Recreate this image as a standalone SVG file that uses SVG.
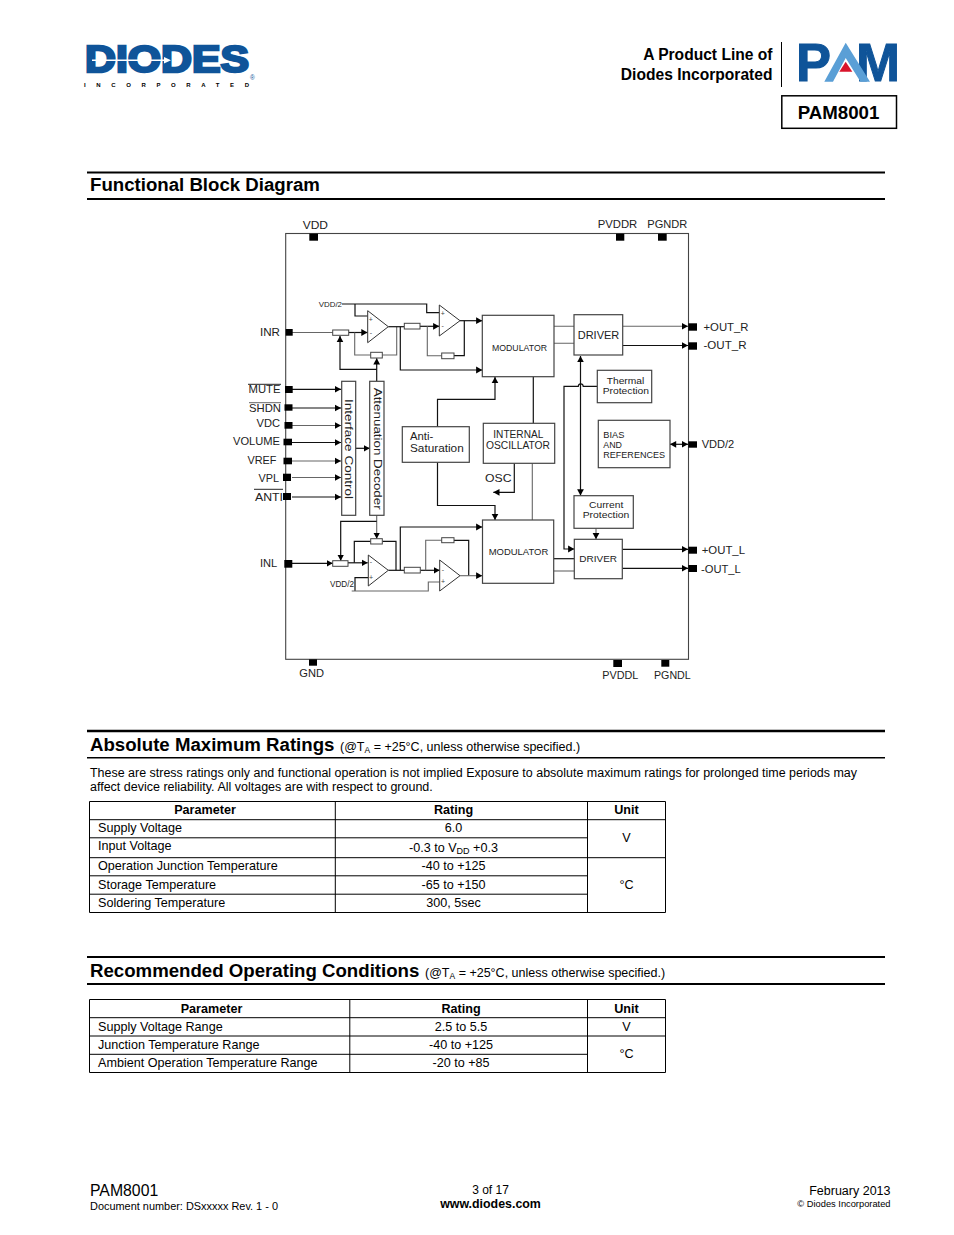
<svg xmlns="http://www.w3.org/2000/svg" width="954" height="1235" viewBox="0 0 954 1235">
<style>
text{font-family:"Liberation Sans",Arial,sans-serif;fill:#000}
.b{font-weight:bold}
.h{font-weight:bold;font-size:18.65px}
.s{font-size:12.5px}
.t{font-size:12.6px}
.tb{font-size:12.6px;font-weight:bold}
.m{text-anchor:middle}
.e{text-anchor:end}
.l{font-size:10.5px;fill:#222}
.pm{font-size:7px;fill:#444;text-anchor:middle}
.rule{stroke:#000;fill:none}
.box{fill:#fff;stroke:#444;stroke-width:1.2}
.res{fill:#fff;stroke:#444;stroke-width:1}
.amp{fill:#fff;stroke:#333;stroke-width:1}
.pin{fill:#000}
.w{fill:none;stroke:#111;stroke-width:1.2}
.g{fill:none;stroke:#666;stroke-width:1.1}
.a{marker-end:url(#ah)}
.tl{stroke:#000;stroke-width:1;fill:none}
.logo{fill:#0f5499;stroke:#0f5499}
</style>
<defs>
<marker id="ah" markerUnits="userSpaceOnUse" markerWidth="7" markerHeight="8" refX="6.2" refY="4" orient="auto"><path d="M0 0.6L6.2 4L0 7.4Z" fill="#000"/></marker>
<marker id="as" markerUnits="userSpaceOnUse" markerWidth="7" markerHeight="8" refX="0" refY="4" orient="auto"><path d="M6.2 0.6L0 4L6.2 7.4Z" fill="#000"/></marker>
</defs>
<rect width="954" height="1235" fill="#fff"/>

<g id="logo-diodes">
<text x="85" y="72.2" class="b logo" font-size="36" textLength="164" lengthAdjust="spacingAndGlyphs" style="stroke-width:2.4">DIODES</text>
<path d="M92 60.3H164" stroke="#fff" stroke-width="1.4" fill="none"/>
<polygon points="164,57 171,60.3 164,63.6" fill="#fff"/>
<text x="250" y="79.5" font-size="6.5" style="fill:#0f5499">®</text>
<text x="84" y="87" class="b" font-size="6" textLength="165">INCORPORATED</text>
</g>
<g id="logo-pam">
<text x="772.5" y="60" class="b e" font-size="15.6">A Product Line of</text>
<text x="772.5" y="80" class="b e" font-size="15.6">Diodes Incorporated</text>
<path d="M781.5 42V87" stroke="#000" stroke-width="1" fill="none"/>
<text x="796" y="81.2" class="b logo" font-size="53" textLength="35" lengthAdjust="spacingAndGlyphs" style="stroke-width:1">P</text>
<text x="856" y="81.2" class="b logo" font-size="53" textLength="44" lengthAdjust="spacingAndGlyphs" style="stroke-width:1">M</text>
<polygon points="845.7,42.7 824.3,81.7 833,81.7 845.7,58 860.5,81.7 870,81.7" fill="#5a9fd6"/>
<polygon points="845.7,61.7 839.3,71.7 852.3,71.7" fill="#d9142b"/>
</g>
<g id="part-number">
<rect x="781.8" y="95.8" width="114.7" height="32.5" fill="#fff" stroke="#000" stroke-width="1.5"/>
<text x="838.5" y="119" class="b m" font-size="18.7">PAM8001</text>
</g>

<g id="section-fbd">
<path class="rule" stroke-width="2" d="M87 172.5H885M87 199H885"/>
<text x="90" y="191" class="h">Functional Block Diagram</text>
</g>

<g id="chip-outline"><rect x="285.7" y="233.5" width="402.8" height="425.8" fill="none" stroke="#444" stroke-width="1.1"/></g>

<g id="connectors">
<path class="g" d="M292 332.5H333"/>
<path class="w a" d="M348.7 332.5H367.5"/>
<path class="w" d="M342 304H426.7V312.7H439.3"/>
<path class="w" d="M355 304V316H367.7"/>
<path class="g" d="M354.7 332.5V355H370.7"/>
<path class="g" d="M382.3 355H396.7V326.7"/>
<path class="w" d="M388.3 326.7H404"/>
<path class="w a" d="M420 326.3H439.3"/>
<path class="w a" d="M376.7 381V358.3"/>
<path class="w a" d="M376.7 369.3H340V336"/>
<path class="w a" d="M400.3 326.7V370H482.3"/>
<path class="g" d="M427.3 326.3V355.7H441.7"/>
<path class="w" d="M454 355.7H464.3V320.7"/>
<path class="w a" d="M460 320.7H482.3"/>
<path class="g" d="M554 326.3H574M554 343.3H574"/>
<path class="g a" d="M622.7 326.3H688"/>
<path class="w a" d="M622.7 345.5H688"/>
<path class="w a" d="M437.5 426.7V399.3H495V377"/>
<path class="w a" d="M437.5 462.3V505.5H495V520"/>
<path class="w" d="M533.3 376.7V423.3"/>
<path class="g" d="M532.3 463.3V520"/>
<path class="w a" d="M514.3 463.3V492.3H493.3"/>
<path class="w a" d="M597.3 386.3H583.2C583 383 578.5 383 578.3 386.3H564V549H574.3"/>
<path class="w a" d="M580.5 440V356"/>
<path class="w a" d="M580.5 440V495.5"/>
<path class="g a" d="M596 528.3V539.3"/>
<path class="w" d="M553.7 558.7H574.3"/>
<path class="g" d="M553.7 571H574.3"/>
<path class="w a" d="M622.3 549.3H688"/>
<path class="w a" d="M622.3 568.3H688"/>
<path class="w a" d="M670 444.3H688" style="marker-start:url(#as)"/>
<path class="w a" d="M292 389.3H341"/>
<path class="w a" d="M292 408H341"/>
<path class="g a" d="M292 425.5H341"/>
<path class="w a" d="M292 442.5H341"/>
<path class="g a" d="M292 461H341"/>
<path class="g a" d="M292 477.5H341"/>
<path class="w a" d="M292 497H341"/>
<path class="w a" d="M355.7 448.3H369.7"/>
<path class="w a" d="M292 563.3H332.7"/>
<path class="w a" d="M348 562.8H367.7"/>
<path class="w" d="M354.3 562.8V541.3H370.7"/>
<path class="w" d="M382.3 541.3H396V570.3"/>
<path class="w" d="M388.3 570.3H404.3"/>
<path class="w a" d="M420.3 570.3H439.7"/>
<path class="g a" d="M376.7 515.3V538.7"/>
<path class="w a" d="M376.7 521.3H340.7V560.7"/>
<path class="w a" d="M400.3 570.3V527H482.3"/>
<path class="g" d="M425.7 570.3V540.3H441.7"/>
<path class="w" d="M454 540.3H468.7V575.7"/>
<path class="g a" d="M460 575.7H482.3"/>
<path class="w" d="M368.3 577.7H355V591"/>
<path class="g" d="M351.7 591H428.3V582H439.7"/>
</g>

<g id="amp-r1"><polygon class="amp" points="367.7,310.7 367.7,342.7 388.3,326.7"/><text x="370.7" y="321.5" class="pm">+</text><text x="371" y="335" class="pm">-</text></g>
<g id="amp-r2"><polygon class="amp" points="439.3,305 439.3,336 460,320.7"/><text x="442.7" y="315.5" class="pm">+</text><text x="442.7" y="328" class="pm">-</text></g>
<g id="amp-l1"><polygon class="amp" points="368.3,555 368.3,586 388.3,570.3"/><text x="371" y="564" class="pm">-</text><text x="371" y="580" class="pm">+</text></g>
<g id="amp-l2"><polygon class="amp" points="439.7,560 439.7,591 460,575.7"/><text x="443" y="572" class="pm">-</text><text x="443" y="583.5" class="pm">+</text></g>

<g id="res-1"><rect class="res" x="332.7" y="330" width="16" height="5.3"/></g>
<g id="res-2"><rect class="res" x="370.7" y="352.3" width="11.6" height="5.7"/></g>
<g id="res-3"><rect class="res" x="404.3" y="323.3" width="15.7" height="5.7"/></g>
<g id="res-4"><rect class="res" x="441.7" y="353" width="12.3" height="5.7"/></g>
<g id="res-5"><rect class="res" x="332.7" y="560.7" width="15.3" height="5.6"/></g>
<g id="res-6"><rect class="res" x="370.7" y="538.7" width="11.6" height="5.3"/></g>
<g id="res-7"><rect class="res" x="404.3" y="567.3" width="16" height="5.7"/></g>
<g id="res-8"><rect class="res" x="441.7" y="537.7" width="12.3" height="5"/></g>

<g id="modulator-r"><rect class="box" x="482.3" y="315.3" width="71.7" height="61.4"/><text class="l" style="font-size:9.5px" x="492" y="350.5" textLength="55" lengthAdjust="spacingAndGlyphs">MODULATOR</text></g>
<g id="driver-r"><rect class="box" x="574" y="314.7" width="48.7" height="40.3"/><text class="l" x="577.7" y="339" textLength="41.6" lengthAdjust="spacingAndGlyphs">DRIVER</text></g>
<g id="thermal"><rect class="box" x="597.3" y="370.3" width="54.4" height="32.4"/><text class="l" style="font-size:9.5px" x="606.7" y="383.5" textLength="37.6" lengthAdjust="spacingAndGlyphs">Thermal</text><text class="l" style="font-size:9.5px" x="602.7" y="393.8" textLength="46.3" lengthAdjust="spacingAndGlyphs">Protection</text></g>
<g id="bias"><rect class="box" x="598.3" y="420.3" width="71.7" height="47.4"/><text class="l" style="font-size:9.5px" x="603.3" y="437.5" textLength="21" lengthAdjust="spacingAndGlyphs">BIAS</text><text class="l" style="font-size:9.5px" x="603.3" y="447.5" textLength="18.7" lengthAdjust="spacingAndGlyphs">AND</text><text class="l" style="font-size:9.5px" x="603.3" y="457.5" textLength="61.7" lengthAdjust="spacingAndGlyphs">REFERENCES</text></g>
<g id="anti-saturation"><rect class="box" x="402.3" y="426.7" width="67" height="35.6"/><text class="l" x="410" y="439.7" textLength="23.3" lengthAdjust="spacingAndGlyphs">Anti-</text><text class="l" x="410" y="451.7" textLength="53.7" lengthAdjust="spacingAndGlyphs">Saturation</text></g>
<g id="oscillator"><rect class="box" x="483.3" y="423.3" width="71.4" height="40"/><text class="l" style="font-size:10px" x="493.3" y="437.6" textLength="50" lengthAdjust="spacingAndGlyphs">INTERNAL</text><text class="l" style="font-size:10px" x="486" y="449.2" textLength="64" lengthAdjust="spacingAndGlyphs">OSCILLATOR</text></g>
<text id="osc-label" class="l" x="485" y="482" textLength="26.5" lengthAdjust="spacingAndGlyphs">OSC</text>
<g id="current-protection"><rect class="box" x="574" y="495.7" width="59.3" height="32.6"/><text class="l" style="font-size:9.5px" x="589" y="507.8" textLength="34.3" lengthAdjust="spacingAndGlyphs">Current</text><text class="l" style="font-size:9.5px" x="582.7" y="518.2" textLength="46.6" lengthAdjust="spacingAndGlyphs">Protection</text></g>
<g id="modulator-l"><rect class="box" x="482.5" y="520" width="71.2" height="63.3"/><text class="l" style="font-size:9.5px" x="488.7" y="555" textLength="59.6" lengthAdjust="spacingAndGlyphs">MODULATOR</text></g>
<g id="driver-l"><rect class="box" x="574.3" y="539.3" width="48" height="39.4"/><text class="l" style="font-size:8.5px" x="579.3" y="562" textLength="37.7" lengthAdjust="spacingAndGlyphs">DRIVER</text></g>
<g id="interface-control"><rect class="box" x="341.7" y="381.3" width="14" height="134"/><text class="l" style="font-size:10px" transform="translate(345.2 399) rotate(90)" textLength="100" lengthAdjust="spacingAndGlyphs">Interface Control</text></g>
<g id="attenuation-decoder"><rect class="box" x="369.7" y="381.3" width="14.3" height="134"/><text class="l" style="font-size:10px" transform="translate(373.5 387.7) rotate(90)" textLength="122" lengthAdjust="spacingAndGlyphs">Attenuation Decoder</text></g>

<g id="pin-vdd"><rect class="pin" x="309.3" y="233.7" width="8.7" height="7"/><text class="l" x="302.7" y="228.7" textLength="25.3" lengthAdjust="spacingAndGlyphs">VDD</text></g>
<g id="pin-pvddr"><rect class="pin" x="616" y="233.7" width="8.3" height="7"/><text class="l" x="597.7" y="228.3" textLength="39.6" lengthAdjust="spacingAndGlyphs">PVDDR</text></g>
<g id="pin-pgndr"><rect class="pin" x="658" y="233.7" width="8.7" height="7"/><text class="l" x="647.3" y="227.7" textLength="40" lengthAdjust="spacingAndGlyphs">PGNDR</text></g>
<g id="pin-gnd"><rect class="pin" x="309" y="659.3" width="8" height="6.4"/><text class="l" x="299.3" y="677" textLength="24.7" lengthAdjust="spacingAndGlyphs">GND</text></g>
<g id="pin-pvddl"><rect class="pin" x="613.3" y="660" width="8.7" height="7"/><text class="l" x="602.3" y="678.7" textLength="36" lengthAdjust="spacingAndGlyphs">PVDDL</text></g>
<g id="pin-pgndl"><rect class="pin" x="661.3" y="660" width="8" height="6.7"/><text class="l" x="654" y="679.4" textLength="36.7" lengthAdjust="spacingAndGlyphs">PGNDL</text></g>
<g id="pin-inr"><rect class="pin" x="285.7" y="329" width="7" height="6.7"/><text class="l" x="260" y="336.4" textLength="20" lengthAdjust="spacingAndGlyphs">INR</text></g>
<g id="pin-mute"><rect class="pin" x="285" y="386" width="7.7" height="7"/><text class="l" x="248.5" y="392.7" textLength="32" lengthAdjust="spacingAndGlyphs">MUTE</text><path d="M248 384.3H281" stroke="#222" fill="none"/></g>
<g id="pin-shdn"><rect class="pin" x="284.5" y="404.3" width="8" height="6.4"/><text class="l" x="249" y="411.7" textLength="32" lengthAdjust="spacingAndGlyphs">SHDN</text><path d="M249 402.7H281" stroke="#666" fill="none"/></g>
<g id="pin-vdc"><rect class="pin" x="284.5" y="422" width="8" height="6.7"/><text class="l" x="256.5" y="426.7" textLength="23.5" lengthAdjust="spacingAndGlyphs">VDC</text></g>
<g id="pin-volume"><rect class="pin" x="283.5" y="438.7" width="8.5" height="6.6"/><text class="l" x="233" y="444.7" textLength="47" lengthAdjust="spacingAndGlyphs">VOLUME</text></g>
<g id="pin-vref"><rect class="pin" x="283.5" y="457.7" width="8.5" height="6.6"/><text class="l" x="247.5" y="463.7" textLength="29" lengthAdjust="spacingAndGlyphs">VREF</text></g>
<g id="pin-vpl"><rect class="pin" x="283" y="473.7" width="8" height="7.3"/><text class="l" x="258.5" y="481.7" textLength="20.5" lengthAdjust="spacingAndGlyphs">VPL</text></g>
<g id="pin-anti"><rect class="pin" x="283" y="493" width="8" height="7"/><text class="l" x="255" y="500.7" textLength="28" lengthAdjust="spacingAndGlyphs">ANTI</text><path d="M254 489.3H283" stroke="#222" fill="none"/></g>
<g id="pin-inl"><rect class="pin" x="284.3" y="560" width="8" height="7.7"/><text class="l" x="260" y="566.7" textLength="17.3" lengthAdjust="spacingAndGlyphs">INL</text></g>
<g id="pin-out-rp"><rect class="pin" x="688.3" y="323.3" width="8.7" height="7.4"/><text class="l" x="703.5" y="331" textLength="45" lengthAdjust="spacingAndGlyphs">+OUT_R</text></g>
<g id="pin-out-rm"><rect class="pin" x="688.3" y="342.3" width="8.7" height="7.4"/><text class="l" x="703.5" y="349.2" textLength="43" lengthAdjust="spacingAndGlyphs">-OUT_R</text></g>
<g id="pin-vdd2"><rect class="pin" x="688.3" y="441.3" width="8.7" height="6.4"/><text class="l" x="701.7" y="447.7" textLength="32.6" lengthAdjust="spacingAndGlyphs">VDD/2</text></g>
<g id="pin-out-lp"><rect class="pin" x="688.3" y="546.7" width="8.7" height="7"/><text class="l" x="701.7" y="554.4" textLength="43.3" lengthAdjust="spacingAndGlyphs">+OUT_L</text></g>
<g id="pin-out-lm"><rect class="pin" x="688.3" y="565" width="8.7" height="7"/><text class="l" x="701" y="572.7" textLength="39.7" lengthAdjust="spacingAndGlyphs">-OUT_L</text></g>
<text id="vdd2-r" class="l" style="font-size:7.5px" x="318.7" y="307.3" textLength="23.3" lengthAdjust="spacingAndGlyphs">VDD/2</text>
<text id="vdd2-l" class="l" style="font-size:9px" x="330" y="587.3" textLength="24" lengthAdjust="spacingAndGlyphs">VDD/2</text>

<g id="section-amr">
<path class="rule" stroke-width="2.4" d="M87 731H885"/>
<path class="rule" stroke-width="1.6" d="M87 757.8H885"/>
<text x="90" y="751" class="h">Absolute Maximum Ratings</text>
<text x="340" y="751" class="s">(@T<tspan font-size="8.5" dy="2">A</tspan><tspan dy="-2"> = +25°C, unless otherwise specified.)</tspan></text>
<text x="90" y="777" class="s" textLength="767" lengthAdjust="spacingAndGlyphs">These are stress ratings only and functional operation is not implied Exposure to absolute maximum ratings for prolonged time periods may</text>
<text x="90" y="791" class="s">affect device reliability. All voltages are with respect to ground.</text>
</g>
<g id="table-amr">
<path class="tl" d="M89.5 801.5H665.5V912.5H89.5ZM335.3 801.5V912.5M587.5 801.5V912.5M89.5 819.7H665.5M89.5 837.8H587.5M89.5 857.7H665.5M89.5 875.8H587.5M89.5 894.2H587.5"/>
<text x="205" y="814" class="tb m">Parameter</text><text x="453.5" y="814" class="tb m">Rating</text><text x="626.5" y="814" class="tb m">Unit</text>
<text x="98" y="832" class="t">Supply Voltage</text><text x="453.5" y="832" class="t m">6.0</text>
<text x="98" y="850" class="t">Input Voltage</text><text x="453.5" y="852" class="t m">-0.3 to V<tspan font-size="9" dy="1.5">DD</tspan><tspan dy="-1.5"> +0.3</tspan></text>
<text x="98" y="870" class="t">Operation Junction Temperature</text><text x="453.5" y="870" class="t m">-40 to +125</text>
<text x="98" y="889" class="t">Storage Temperature</text><text x="453.5" y="889" class="t m">-65 to +150</text>
<text x="98" y="907" class="t">Soldering Temperature</text><text x="453.5" y="907" class="t m">300, 5sec</text>
<text x="626.5" y="842" class="t m">V</text><text x="626.5" y="889" class="t m">°C</text>
</g>

<g id="section-roc">
<path class="rule" stroke-width="2" d="M87 957H885"/>
<path class="rule" stroke-width="2" d="M87 984H885"/>
<text x="90" y="977" class="h">Recommended Operating Conditions</text>
<text x="425" y="977" class="s">(@T<tspan font-size="8.5" dy="2">A</tspan><tspan dy="-2"> = +25°C, unless otherwise specified.)</tspan></text>
</g>
<g id="table-roc">
<path class="tl" d="M89.5 999.5H665.5V1072.5H89.5ZM349.8 999.5V1072.5M587.5 999.5V1072.5M89.5 1017.7H665.5M89.5 1036H665.5M89.5 1054.3H587.5"/>
<text x="211.5" y="1013" class="tb m">Parameter</text><text x="461" y="1013" class="tb m">Rating</text><text x="626.5" y="1013" class="tb m">Unit</text>
<text x="98" y="1031" class="t">Supply Voltage Range</text><text x="461" y="1031" class="t m">2.5 to 5.5</text><text x="626.5" y="1031" class="t m">V</text>
<text x="98" y="1049" class="t">Junction Temperature Range</text><text x="461" y="1049" class="t m">-40 to +125</text>
<text x="98" y="1067" class="t">Ambient Operation Temperature Range</text><text x="461" y="1067" class="t m">-20 to +85</text>
<text x="626.5" y="1058" class="t m">°C</text>
</g>

<g id="footer">
<text x="90" y="1196" font-size="15.8">PAM8001</text>
<text x="90" y="1210" font-size="10.93">Document number: DSxxxxx Rev. 1 - 0</text>
<text x="490.5" y="1194" class="m" font-size="12">3 of 17</text>
<text x="490.5" y="1208" class="b m" font-size="12.4">www.diodes.com</text>
<text x="890.5" y="1195" class="e" font-size="12.5">February 2013</text>
<text x="890.5" y="1207" class="e" font-size="9.3">© Diodes Incorporated</text>
</g>
</svg>
